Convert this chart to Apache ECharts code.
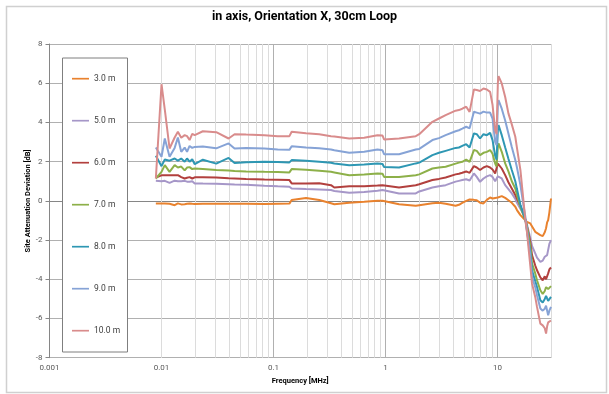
<!DOCTYPE html>
<html>
<head>
<meta charset="utf-8">
<script src="https://cdn.jsdelivr.net/npm/echarts@6/dist/echarts.min.js"></script>
<style>
  html, body { margin: 0; padding: 0; background: #fff; }
  #chart { width: 609px; height: 394px; }
</style>
</head>
<body>
<div id="chart"></div>
<script>
// frequency points [MHz], shared by all series
const freqMHz = [
  0.0089, 0.0100, 0.0107, 0.0118, 0.0131, 0.0140, 0.0150, 0.0161, 0.0169, 0.0178,
  0.0188, 0.0198, 0.0234, 0.0308, 0.0397, 0.0449, 0.0570, 0.083, 0.109, 0.1386,
  0.1452, 0.195, 0.256, 0.326, 0.349, 0.474, 0.645, 0.847, 0.94, 0.97,
  1.32, 1.86, 2.0, 2.62, 3.0, 3.44, 4.22, 4.52, 4.84, 5.25,
  5.63, 6.15, 6.52, 6.98, 7.49, 8.02, 8.58, 9.02, 9.52, 9.8,
  10.06, 10.2, 10.9, 11.7, 12.5, 13.4, 14.4, 14.9, 16.0, 17.1,
  17.7, 18.3, 19.6, 20.3, 21.7, 22.5, 24.1, 25.3, 25.8, 26.4,
  27.1, 27.7, 28.3, 29.0, 30.0
];

const d3m = [
  -0.13, -0.13, -0.13, -0.15, -0.22, -0.13, -0.18, -0.17, -0.15, -0.13,
  -0.15, -0.16, -0.15, -0.15, -0.15, -0.15, -0.15, -0.16, -0.15, -0.14,
  0.04, 0.15, 0.04, -0.12, -0.17, -0.10, -0.05, 0.0, 0.0, -0.02,
  -0.17, -0.25, -0.22, -0.12, -0.10, -0.15, -0.25, -0.20, -0.10, 0.0,
  0.07, 0.05, 0.03, -0.10, -0.13, 0.05, 0.17, 0.12, 0.15, 0.16,
  0.17, 0.20, 0.24, 0.15, 0.03, -0.10, -0.30, -0.47, -0.73, -0.90,
  -0.98, -1.07, -1.15, -1.19, -1.58, -1.65, -1.75, -1.80, -1.75, -1.60,
  -1.40, -1.10, -0.98, -0.60, 0.12
];
const d5m = [
  1.02, 1.00, 1.02, 0.92, 1.03, 1.00, 1.00, 1.02, 0.98, 0.97,
  1.00, 0.89, 0.88, 0.87, 0.85, 0.83, 0.82, 0.77, 0.74, 0.72,
  0.63, 0.60, 0.58, 0.55, 0.50, 0.41, 0.45, 0.52, 0.55, 0.45,
  0.38, 0.38, 0.48, 0.68, 0.74, 0.80, 0.98, 1.02, 1.06, 1.10,
  1.04, 1.40, 1.22, 0.97, 1.14, 1.25, 1.31, 1.22, 1.00, 0.93,
  1.25, 1.31, 1.14, 0.80, 0.60, 0.38, 0.10, -0.10, -0.40, -0.70,
  -0.95, -1.20, -1.90, -2.30, -2.68, -2.90, -3.11, -3.05, -2.95, -2.85,
  -2.75, -2.77, -2.50, -2.20, -2.00
];
const d6m = [
  1.19, 1.30, 1.30, 1.31, 1.31, 1.31, 1.21, 1.14, 1.18, 1.21,
  1.14, 1.20, 1.20, 1.19, 1.15, 1.14, 1.12, 1.09, 1.08, 1.06,
  0.89, 0.89, 0.90, 0.80, 0.68, 0.74, 0.74, 0.78, 0.80, 0.77,
  0.68, 0.80, 0.85, 1.06, 1.12, 1.19, 1.35, 1.38, 1.43, 1.50,
  1.43, 1.77, 1.70, 1.57, 1.70, 1.77, 1.70, 1.60, 1.40, 1.35,
  1.90, 1.99, 1.65, 1.31, 0.95, 0.63, 0.30, 0.10, -0.25, -0.70,
  -0.95, -1.30, -2.10, -2.77, -3.30, -3.54, -3.90, -4.05, -3.95, -3.85,
  -4.00, -4.00, -3.70, -3.50, -3.40
];
const d7m = [
  1.14, 1.48, 1.82, 1.48, 1.82, 1.70, 1.75, 1.55, 1.70, 1.72,
  1.62, 1.65, 1.63, 1.57, 1.55, 1.52, 1.50, 1.48, 1.47, 1.45,
  1.62, 1.58, 1.53, 1.48, 1.45, 1.31, 1.35, 1.39, 1.38, 1.22,
  1.22, 1.31, 1.35, 1.65, 1.70, 1.74, 1.90, 1.95, 1.99, 2.10,
  1.99, 2.59, 2.55, 2.33, 2.45, 2.50, 2.59, 2.40, 1.90, 1.75,
  2.75, 2.93, 2.50, 1.91, 1.50, 1.00, 0.63, 0.30, -0.30, -0.75,
  -0.95, -1.30, -2.30, -3.19, -3.70, -4.05, -4.56, -4.75, -4.81, -4.60,
  -4.40, -4.45, -4.50, -4.45, -4.35
];
const d8m = [
  2.30, 1.77, 2.11, 2.05, 2.16, 2.05, 2.16, 2.00, 2.16, 2.00,
  2.12, 1.87, 2.10, 1.90, 2.19, 1.93, 1.97, 1.99, 1.98, 1.96,
  2.08, 2.05, 2.00, 1.94, 1.90, 1.82, 1.85, 1.91, 1.88, 1.73,
  1.70, 1.91, 1.95, 2.33, 2.45, 2.55, 2.70, 2.72, 2.80, 2.89,
  2.72, 3.44, 3.40, 3.18, 3.40, 3.35, 3.47, 3.10, 2.30, 2.10,
  3.60, 3.86, 3.35, 2.72, 2.15, 1.57, 1.00, 0.60, -0.20, -0.70,
  -0.95, -1.50, -2.60, -3.54, -4.10, -4.39, -5.07, -5.18, -5.24, -5.00,
  -4.85, -4.98, -5.10, -5.00, -4.90
];
const d9m = [
  2.72, 2.25, 3.18, 2.25, 2.70, 3.23, 2.50, 2.72, 2.50, 2.80,
  2.70, 2.75, 2.77, 2.68, 2.93, 2.67, 2.70, 2.67, 2.62, 2.60,
  2.79, 2.72, 2.68, 2.62, 2.58, 2.45, 2.50, 2.62, 2.58, 2.38,
  2.38, 2.62, 2.65, 3.10, 3.20, 3.35, 3.55, 3.60, 3.68, 3.78,
  3.70, 4.54, 4.50, 4.45, 4.55, 4.50, 4.50, 4.20, 3.00, 2.85,
  4.90, 5.14, 4.70, 4.10, 3.44, 2.75, 2.08, 1.70, 0.80, -0.30,
  -0.80, -1.50, -2.80, -3.88, -4.40, -4.81, -5.49, -5.60, -5.66, -5.50,
  -5.35, -5.60, -5.83, -5.60, -5.41
];
const d10m = [
  1.14, 5.95, 4.65, 2.67, 3.23, 3.52, 3.22, 3.35, 3.30, 3.10,
  3.42, 3.35, 3.55, 3.50, 3.18, 3.40, 3.38, 3.35, 3.30, 3.30,
  3.52, 3.45, 3.40, 3.30, 3.28, 3.18, 3.22, 3.35, 3.33, 3.13,
  3.18, 3.30, 3.40, 4.03, 4.20, 4.37, 4.60, 4.63, 4.70, 4.80,
  4.54, 5.68, 5.65, 5.60, 5.73, 5.68, 5.56, 4.90, 3.60, 3.40,
  6.00, 6.36, 5.99, 5.30, 4.46, 3.90, 3.27, 2.70, 1.57, -0.10,
  -0.98, -1.60, -3.30, -4.21, -4.90, -5.41, -6.26, -6.35, -6.43, -6.50,
  -6.77, -6.40, -6.20, -6.17, -6.10
];

const seriesNames = ['3.0 m', '5.0 m', '6.0 m', '7.0 m', '8.0 m', '9.0 m', '10.0 m'];
const seriesValues = [d3m, d5m, d6m, d7m, d8m, d9m, d10m];
const seriesColors = ['#E9822E', '#A697C8', '#B2403E', '#8DB049', '#2E97B3', '#86A3D6', '#D98C8C'];

const xTickLabels = ['0.001', '0.01', '0.1', '1', '10'];
const yTicks = [-8, -6, -4, -2, 0, 2, 4, 6, 8];
const minorGridMHz = [
  0.002, 0.003, 0.004, 0.005, 0.006, 0.007, 0.008, 0.009,
  0.02, 0.03, 0.04, 0.05, 0.06, 0.07, 0.08, 0.09,
  0.2, 0.3, 0.4, 0.5, 0.6, 0.7, 0.8, 0.9,
  2, 3, 4, 5, 6, 7, 8, 9,
  20, 30
];

const font = 'Roboto, "Liberation Sans", sans-serif';

const lineSeries = seriesNames.map((name, i) => ({
  name: name,
  type: 'line',
  data: freqMHz.map((f, j) => [f, seriesValues[i][j]]),
  showSymbol: false,
  symbol: 'none',
  smooth: false,
  lineStyle: { width: 2, color: seriesColors[i] },
  itemStyle: { color: seriesColors[i] },
  z: 3
}));

// minor log grid lines, drawn through the x axis scale
lineSeries.unshift({
  name: 'minorGrid',
  type: 'line',
  data: [],
  silent: true,
  z: 1,
  markLine: {
    silent: true,
    z: 1,
    symbol: ['none', 'none'],
    label: { show: false },
    lineStyle: { color: '#dcdcdc', width: 1, type: 'solid' },
    emphasis: { disabled: true },
    animation: false,
    data: minorGridMHz.map(v => ({ xAxis: v }))
  }
});

const option = {
  animation: false,
  textStyle: { fontFamily: font },
  title: {
    text: 'in axis, Orientation X, 30cm Loop',
    left: 'center',
    top: 10,
    padding: 0,
    textStyle: { fontFamily: font, fontSize: 12.5, fontWeight: 'bold', color: '#000' }
  },
  graphic: [
    {
      type: 'rect',
      left: 4, top: 4, z: -10,
      shape: { width: 600, height: 386 },
      style: { fill: 'none', stroke: '#d0d0d0', lineWidth: 1.5 }
    },
    {
      type: 'rect',
      left: 62, top: 57.5, z: 3,
      shape: { width: 65, height: 294 },
      style: { fill: '#fff', stroke: '#7f7f7f', lineWidth: 1 }
    }
  ],
  legend: {
    data: seriesNames,
    orient: 'vertical',
    left: 72,
    top: 72.7,
    padding: 0,
    itemWidth: 17,
    itemHeight: 12,
    itemGap: 30,
    icon: 'path://M0,0H20V2H0Z',
    z: 5,
    textStyle: { fontFamily: font, fontSize: 8.5, color: '#404040', lineHeight: 12 }
  },
  grid: { left: 49.5, right: 58, top: 44, bottom: 36.3 },
  xAxis: {
    type: 'log',
    logBase: 10,
    min: 0.001,
    max: 30,
    name: 'Frequency [MHz]',
    nameLocation: 'middle',
    nameMoveOverlap: false,
    nameGap: 19,
    nameTextStyle: { fontFamily: font, fontSize: 7.5, fontWeight: 'bold', color: '#000' },
    axisLine: { show: true, lineStyle: { color: '#868686', width: 1 } },
    axisTick: { show: true, length: 4, lineStyle: { color: '#868686' } },
    splitLine: { show: true, lineStyle: { color: '#b0b0b0', width: 1 } },
    axisLabel: {
      fontFamily: font, fontSize: 8, color: '#595959', margin: 6,
      formatter: function (v) {
        const e = Math.log10(v);
        const k = Math.round(e);
        if (Math.abs(e - k) > 1e-6) return '';
        return xTickLabels[k + 3] || '';
      }
    }
  },
  yAxis: {
    type: 'value',
    min: yTicks[0],
    max: yTicks[yTicks.length - 1],
    interval: 2,
    name: 'Site Attenuation Deviation [dB]',
    nameLocation: 'middle',
    nameMoveOverlap: false,
    nameRotate: 90,
    nameGap: 17,
    nameTextStyle: { fontFamily: font, fontSize: 7.5, fontWeight: 'bold', color: '#000' },
    axisLine: { show: true, lineStyle: { color: '#868686', width: 1 } },
    axisTick: { show: true, length: 4, lineStyle: { color: '#868686' } },
    splitLine: { show: true, lineStyle: { color: '#b0b0b0', width: 1 } },
    axisLabel: { fontFamily: font, fontSize: 8, color: '#595959', margin: 7 }
  },
  series: lineSeries
};

const chart = echarts.init(document.getElementById('chart'), null, { renderer: 'canvas' });
chart.setOption(option);
</script>
</body>
</html>
